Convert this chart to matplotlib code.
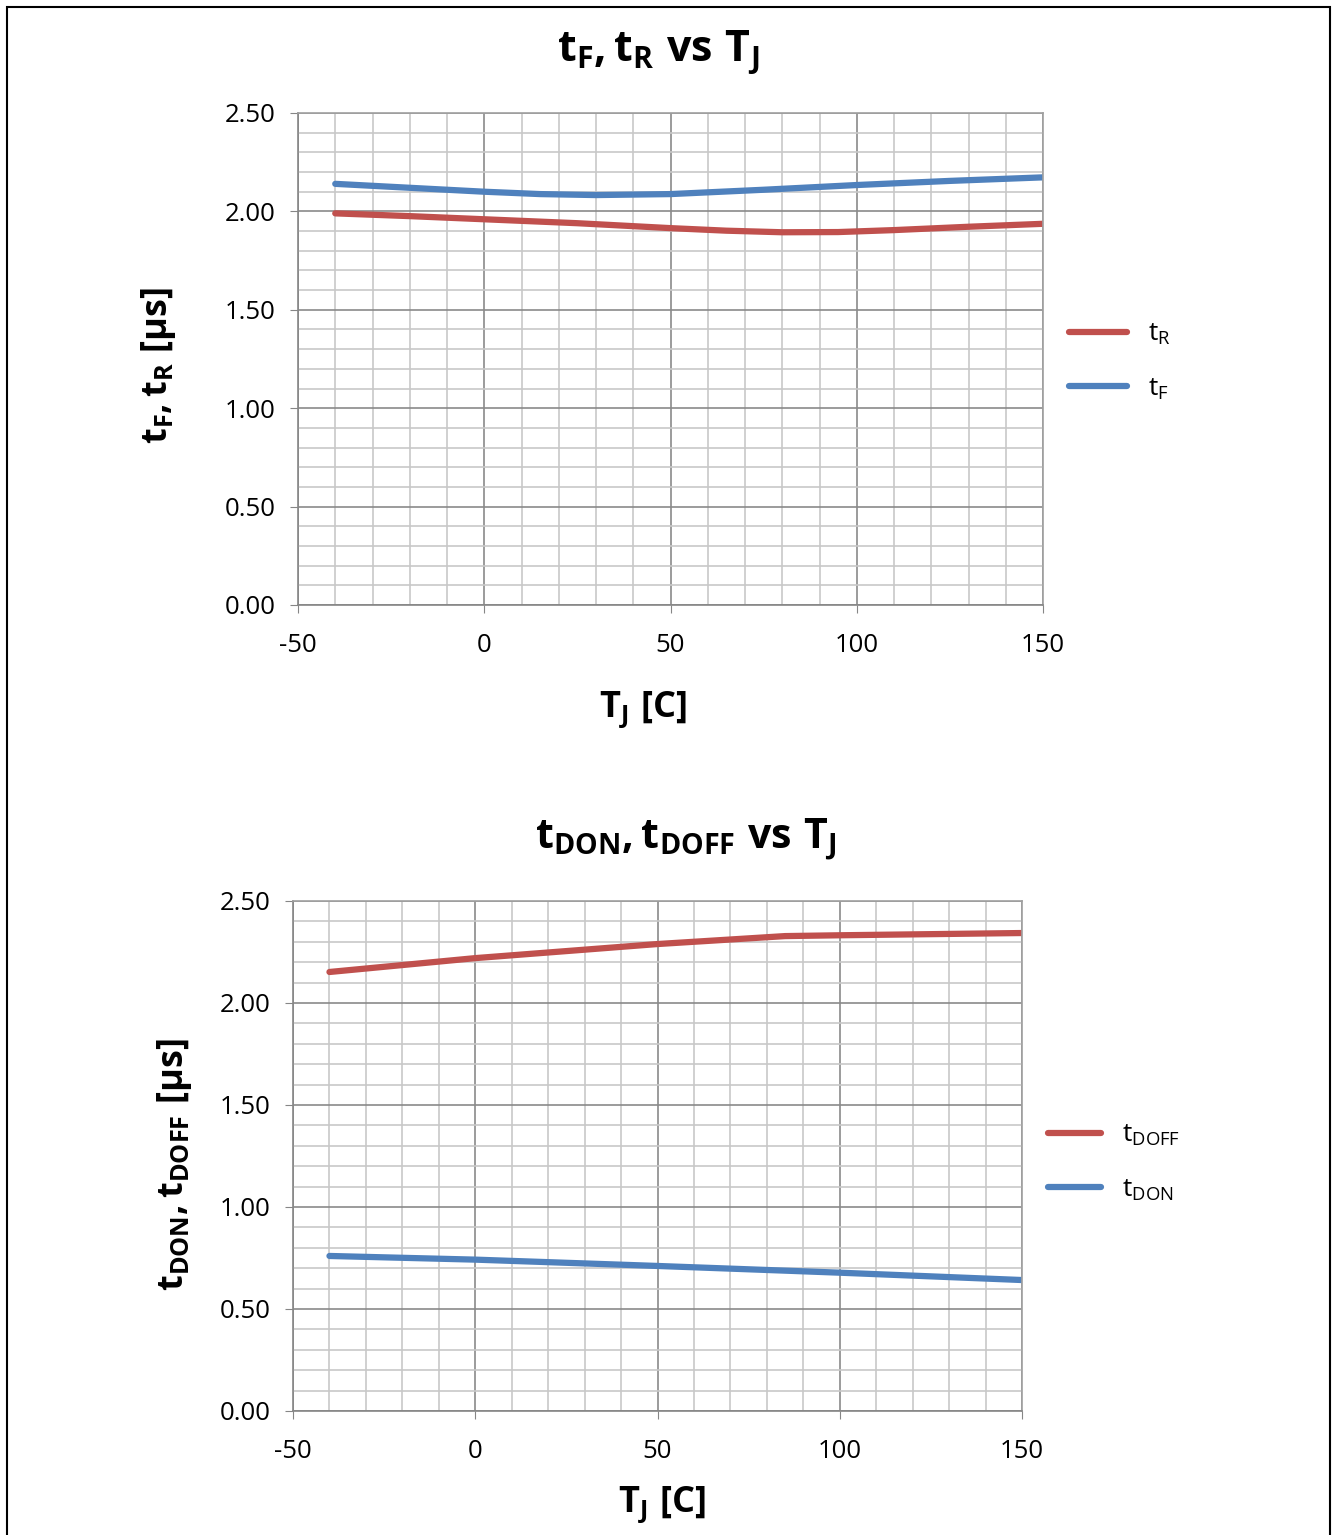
import matplotlib
matplotlib.use('Agg')
import matplotlib.pyplot as plt
from matplotlib.ticker import MultipleLocator
from matplotlib.patches import Rectangle

plt.rcParams['font.family'] = ['Open Sans', 'DejaVu Sans']
plt.rcParams['mathtext.fontset'] = 'custom'
plt.rcParams['mathtext.rm'] = 'Open Sans'
plt.rcParams['mathtext.bf'] = 'Open Sans:bold'
plt.rcParams['mathtext.it'] = 'Open Sans:italic'
plt.rcParams['axes.unicode_minus'] = False

# data
tj = [-40, -20, 0, 25, 50, 65, 80, 95, 110, 130, 150]
t_r = [1.99, 1.976, 1.96, 1.94, 1.915, 1.902, 1.894, 1.895, 1.905, 1.922, 1.937]
tj_f = [-40, -20, 0, 15, 30, 50, 75, 100, 125, 150]
t_f = [2.14, 2.12, 2.10, 2.088, 2.083, 2.088, 2.11, 2.134, 2.155, 2.173]

tj2 = [-40, 0, 50, 85, 100, 150]
t_doff = [2.152, 2.22, 2.289, 2.328, 2.332, 2.343]
t_don = [0.760, 0.742, 0.711, 0.688, 0.678, 0.642]

RED = '#C0504D'
BLUE = '#4F81BD'

W, H = 1332, 1535
fig = plt.figure(figsize=(W / 100, H / 100), dpi=100)

# outer frame
fig.add_artist(Rectangle((7 / W, -0.01), (1330 - 7) / W, 1.01 - 7 / H,
                         transform=fig.transFigure, fill=False, ec='black', lw=1.5))


def setup(ax):
    ax.set_xlim(-50, 150)
    ax.set_ylim(0, 2.5)
    ax.xaxis.set_major_locator(MultipleLocator(50))
    ax.xaxis.set_minor_locator(MultipleLocator(10))
    ax.yaxis.set_major_locator(MultipleLocator(0.5))
    ax.yaxis.set_minor_locator(MultipleLocator(0.1))
    ax.yaxis.set_major_formatter(lambda v, p: '%.2f' % v)
    ax.grid(which='minor', color='#c8c8c8', lw=1.2)
    ax.grid(which='major', color='#8a8a8a', lw=1.2)
    ax.set_axisbelow(True)
    for s in ax.spines.values():
        s.set_color('#a0a0a0')
        s.set_linewidth(1.2)
    ax.spines['left'].set_color('#868686')
    ax.spines['bottom'].set_color('#868686')
    ax.tick_params(which='major', length=6, color='#868686', labelsize=18.5)
    ax.tick_params(axis='x', pad=14)
    ax.tick_params(axis='y', pad=10)
    ax.tick_params(which='minor', length=0)


# top chart
ax1 = fig.add_axes([298 / W, 1 - 605 / H, (1043 - 298) / W, (605 - 113) / H])
setup(ax1)
ax1.plot(tj, t_r, color=RED, lw=4.5, solid_capstyle='round', label=r't$_\mathregular{R}$')
ax1.plot(tj_f, t_f, color=BLUE, lw=4.5, solid_capstyle='round', label=r't$_\mathregular{F}$')
ax1.legend(loc='center left', bbox_to_anchor=(1045 / W, 1 - 362 / H),
           bbox_transform=fig.transFigure, frameon=False, fontsize=19,
           handlelength=2.2, handletextpad=0.8, labelspacing=1.1)

fig.text(658 / W, 1 - 52 / H, r'$\mathbf{t_{F}, t_{R}\ vs\ T_{J}}$',
         ha='center', va='center', fontsize=31)
fig.text(643 / W, 1 - 710 / H, r'$\mathbf{T_{J}\ [C]}$',
         ha='center', va='center', fontsize=26)
fig.text(158 / W, 1 - 365 / H, r'$\mathbf{t_{F}, t_{R}\ [\mu s]}$',
         ha='center', va='center', fontsize=26, rotation=90)

# bottom chart
ax2 = fig.add_axes([293 / W, 1 - 1411 / H, (1022 - 293) / W, (1411 - 901) / H])
setup(ax2)
ax2.plot(tj2, t_doff, color=RED, lw=4.5, solid_capstyle='round', label=r't$_\mathregular{DOFF}$')
ax2.plot(tj2, t_don, color=BLUE, lw=4.5, solid_capstyle='round', label=r't$_\mathregular{DON}$')
ax2.legend(loc='center left', bbox_to_anchor=(1024 / W, 1 - 1163 / H),
           bbox_transform=fig.transFigure, frameon=False, fontsize=19,
           handlelength=2.0, handletextpad=0.8, labelspacing=1.1)

fig.text(686 / W, 1 - 840 / H, r'$\mathbf{t_{DON}, t_{DOFF}\ vs\ T_{J}}$',
         ha='center', va='center', fontsize=29.5)
fig.text(662 / W, 1 - 1505 / H, r'$\mathbf{T_{J}\ [C]}$',
         ha='center', va='center', fontsize=26)
fig.text(175 / W, 1 - 1165 / H, r'$\mathbf{t_{DON}, t_{DOFF}\ [\mu s]}$',
         ha='center', va='center', fontsize=26, rotation=90)

fig.savefig('out.png', dpi=100)
